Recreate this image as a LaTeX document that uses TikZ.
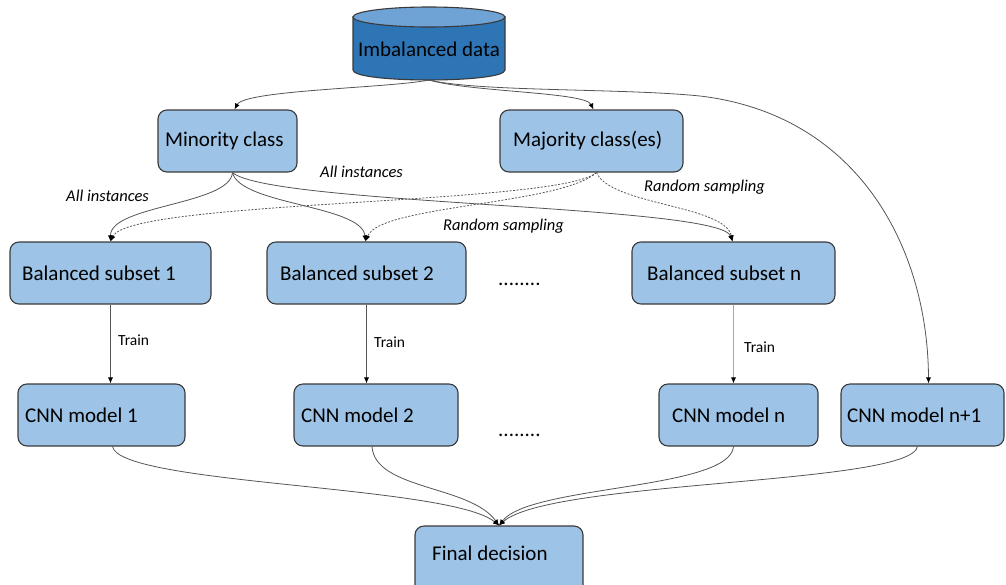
\documentclass[tikz,border=0pt]{standalone}
\usepackage{fontspec}
\setmainfont{Carlito}
\usetikzlibrary{arrows.meta,calc}
\definecolor{boxfill}{HTML}{9DC3E6}
\definecolor{boxdraw}{HTML}{3A3A3A}
\definecolor{cylbody}{HTML}{2E75B6}
\definecolor{cyltop}{HTML}{6FA3D6}
\definecolor{conncol}{HTML}{555555}
\begin{document}
\begin{tikzpicture}[x=1pt,y=-1pt,
 box/.style={draw=boxdraw, fill=boxfill, line width=1.1pt, rounded corners=9pt, inner sep=0pt, minimum height=62pt},
 btext/.style={anchor=west, font=\fontsize{21}{25}\selectfont, inner sep=0pt},
 lab/.style={anchor=west, font=\fontsize{16.5}{20}\selectfont\itshape, inner sep=0pt},
 trainlab/.style={anchor=west, font=\fontsize{15.5}{19}\selectfont, inner sep=0pt},
 conn/.style={draw=conncol, line width=0.8pt, -{Latex[length=6pt,width=5pt,color=black]}},
 dconn/.style={conn, dash pattern=on 2pt off 1.5pt},
]
\useasboundingbox (0,0) rectangle (1006,584);

% cylinder
\filldraw[fill=cylbody, draw=boxdraw, line width=1.1pt] (353,17) -- (353,70) .. controls (353,83.3) and (505,83.3) .. (505,70) -- (505,17) -- cycle;
\filldraw[fill=cyltop, draw=boxdraw, line width=1.1pt] (429,17) ellipse [x radius=76, y radius=10];
\node[font=\fontsize{21}{25}\selectfont, inner sep=0pt] (db) at (429,49) {Imbalanced data};
\coordinate (dbb) at (429,80);

% boxes
\node[box, minimum width=139pt] (min) at (227.5,141) {};
\node[btext] (mint) at (165,141) {Minority class};
\node[box, minimum width=183pt] (maj) at (591.5,141) {};
\node[btext] (majt) at (513,141) {Majority class(es)};

\node[box, minimum width=201pt] (bs1) at (110.5,273) {};
\node[btext] (bs1t) at (22,273) {Balanced subset 1};
\node[box, minimum width=199pt] (bs2) at (366.5,273) {};
\node[btext] (bs2t) at (280,273) {Balanced subset 2};
\node[box, minimum width=203pt] (bsn) at (733.5,273) {};
\node[btext] (bsnt) at (647,273) {Balanced subset n};

\node[box, minimum width=167pt] (cnn1) at (101.5,415) {};
\node[btext] (cnn1t) at (25,415) {CNN model 1};
\node[box, minimum width=164pt] (cnn2) at (376,415) {};
\node[btext] (cnn2t) at (301,415) {CNN model 2};
\node[box, minimum width=159pt] (cnnn) at (738.5,415) {};
\node[btext] (cnnnt) at (672,415) {CNN model n};
\node[box, minimum width=163pt] (cnnm) at (922.5,415) {};
\node[btext] (cnnmt) at (847,415) {CNN model n+1};

\node[box, minimum width=168pt, minimum height=68pt] (fin) at (499,560) {};
\node[btext] (fint) at (432,553) {Final decision};

\node[btext, anchor=base west] (dots1) at (498,285) {........};
\node[btext, anchor=base west] (dots2) at (498,436) {........};

% labels
\node[lab] (l1) at (66,196) {All instances};
\node[lab] (l2) at (320,172) {All instances};
\node[lab] (l3) at (644,187) {Random sampling};
\node[lab] (l4) at (443,226) {Random sampling};
\node[trainlab] (t1) at (118,340) {Train};
\node[trainlab] (t2) at (374,342) {Train};
\node[trainlab] (t3) at (744,347) {Train};

% connectors from data
\draw[conn] (dbb) .. controls (390,88) and (245,90) .. ([xshift=7pt]min.north);
\draw[conn] (dbb) .. controls (470,92) and (585,92) .. ([xshift=2pt]maj.north);
\draw[conn] (dbb) .. controls (480,92) and (620,88) .. (700,96) .. controls (860,115) and (928,250) .. ([xshift=6pt]cnnm.north);

% minority -> subsets
\draw[conn] ([xshift=5pt]min.south) .. controls (230,205) and (110,205) .. (bs1.north);
\draw[conn] ([xshift=5pt]min.south) .. controls (240,205) and (362,205) .. ([xshift=-1pt]bs2.north);
\draw[conn] ([xshift=5pt]min.south) .. controls (270,205) and (720,205) .. ([xshift=-1pt]bsn.north);

% majority -> subsets
\draw[dconn] ([xshift=5pt]maj.south) .. controls (560,205) and (130,200) .. (bs1.north);
\draw[dconn] ([xshift=5pt]maj.south) .. controls (560,205) and (380,205) .. ([xshift=-1pt]bs2.north);
\draw[dconn] ([xshift=5pt]maj.south) .. controls (610,205) and (725,205) .. ([xshift=-1pt]bsn.north);

% train
\draw[conn] (bs1.south) -- (bs1.south |- cnn1.north);
\draw[conn] (bs2.south) -- (bs2.south |- cnn2.north);
\draw[conn, draw=gray!70] (bsn.south) -- (bsn.south |- cnnn.north);

% models -> final
\draw[conn] ([xshift=11pt]cnn1.south) .. controls (120,485) and (450,485) .. (fin.north);
\draw[conn] ([xshift=-4pt]cnn2.south) .. controls (375,490) and (470,485) .. (fin.north);
\draw[conn] ([xshift=-5pt]cnnn.south) .. controls (730,490) and (530,485) .. (fin.north);
\draw[conn] ([xshift=-5pt]cnnm.south) .. controls (910,485) and (550,480) .. (fin.north);
\end{tikzpicture}
\end{document}
